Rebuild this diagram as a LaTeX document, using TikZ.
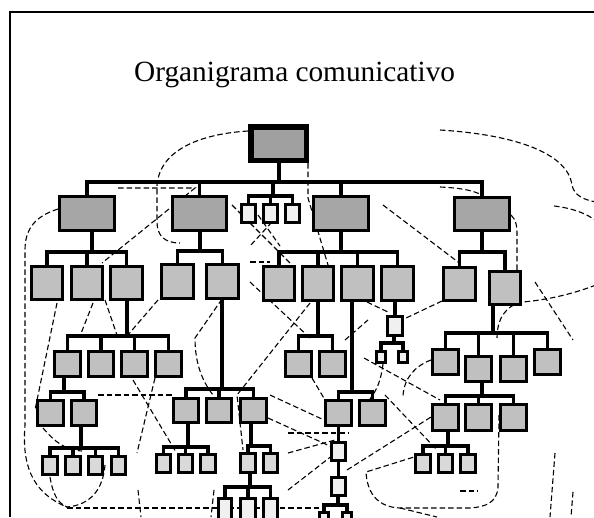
\documentclass[tikz,border=0pt]{standalone}
\usepackage{fontspec}
\setmainfont{Liberation Serif}
\definecolor{lvT}{RGB}{160,160,160}
\definecolor{lvA}{RGB}{166,166,166}
\definecolor{lvB}{RGB}{192,192,192}
\definecolor{lvC}{RGB}{217,217,217}
\definecolor{lvD}{RGB}{240,240,240}
\newcommand\bx[6]{\node[#1, minimum width={#4-#2-3.3}, minimum height={#5-#3-3.3}] (#6) at ({(#2+#4)/2},{(#3+#5)/2}) {};}
\newcommand\stemto[3]{\draw[tree] (#1.south -| #2,0) -- (#2,#3);}
\newcommand\kid[3]{\draw[tree] (#1,#2) -| (#3.north);}
\begin{document}
\begin{tikzpicture}[x=1pt,y=-1pt,
  box/.style={draw=black, line width=3.3pt, rectangle, inner sep=0pt, outer sep=0pt},
  lone/.style={box, fill=lvA},
  ltwo/.style={box, fill=lvB},
  lthree/.style={box, fill=lvC},
  lfour/.style={box, fill=lvD},
  tree/.style={line width=3.2pt, line cap=rect, line join=miter},
  comm/.style={line width=1.1pt, dash pattern=on 5.5pt off 3pt},
  frame/.style={line width=2.2pt}]
\useasboundingbox (0,0) rectangle (594,517);
\fill[white] (0,0) rectangle (594,517);
% frame and title
\draw[frame] (10,517) -- (10,12) -- (594,12);
\node[font=\fontsize{29.3pt}{35pt}\selectfont, anchor=base west, inner sep=0pt] (title) at (134,81) {Organigrama comunicativo};
% communication lines (dashed)
\draw[comm] (248,131) .. controls (200,134) and (160,150) .. (157,185) -- (157,222) .. controls (157,236) and (165,243) .. (180,243);
\draw[comm] (118,188) -- (195,188) -- (102,263);
\draw[comm] (58,209) .. controls (36,216) and (25,228) .. (25,250) -- (25,425) .. controls (22,462) and (30,492) .. (67,507);
\draw[comm] (308,163) -- (308,198) -- (328,265);
\draw[comm] (440,130) .. controls (520,135) and (568,155) .. (572,185) .. controls (574,196) and (585,200) .. (596,202);
\draw[comm] (440,187) .. controls (460,188) and (472,190) .. (482,195);
\draw[comm] (554,206) .. controls (572,208) and (588,214) .. (596,221);
\draw[comm] (511,215) .. controls (516,220) and (517,225) .. (517,235) -- (517,270);
\draw[comm] (383,205) -- (458,262);
\draw[comm] (535,282) -- (573,340);
\draw[comm] (596,285) .. controls (570,295) and (545,300) .. (523,302) .. controls (505,305) and (497,320) .. (497,338);
\draw[comm] (442,301) -- (404,319);
\draw[comm] (367,302) -- (390,313);
\draw[comm] (250,282) -- (310,338);
\draw[comm] (250,262) -- (270,262);
\draw[comm] (222,299) -- (195,338) .. controls (195,365) and (203,382) .. (213,395);
\draw[comm] (158,300) -- (127,336);
\draw[comm] (93,303) -- (80,336);
\draw[comm] (105,300) -- (118,338);
\draw[comm] (57,303) -- (35,410);
\draw[comm] (67,508) -- (323,508);
\draw[comm] (105,465) .. controls (103,490) and (90,505) .. (67,507);
\draw[comm] (50,477) .. controls (53,495) and (58,503) .. (67,507);
\draw[comm] (43,428) .. controls (55,442) and (65,450) .. (82,451);
\draw[comm] (98,395) -- (172,395);
\draw[comm] (133,380) -- (176,452);
\draw[comm] (155,378) -- (137,453);
\draw[comm] (138,490) -- (141,517);
\draw[comm] (310,303) -- (237,395) -- (243,450);
\draw[comm] (214,490) -- (211,517);
\draw[comm] (270,395) -- (324,420);
\draw[comm] (268,418) -- (332,447);
\draw[comm] (288,433) -- (348,433);
\draw[comm] (288,453) -- (335,440);
\draw[comm] (288,490) -- (333,455);
\draw[comm] (347,470) -- (431,417);
\draw[comm] (385,395) -- (437,450);
\draw[comm] (364,358) -- (440,400);
\draw[comm] (383,364) .. controls (381,380) and (377,390) .. (370,399);
\draw[comm] (431,360) .. controls (415,366) and (404,378) .. (403,396);
\draw[comm] (499,415) -- (498,487) .. controls (497,503) and (485,507) .. (470,508) -- (400,508) .. controls (375,507) and (367,490) .. (366,472) -- (414,457);
\draw[comm] (460,491) -- (478,491);
\draw[comm] (555,453) -- (550,517);
\draw[comm] (573,492) -- (571,517);
\draw[comm] (400,508) -- (437,517);
\draw[comm] (345,340) -- (368,320);
\draw[comm] (312,378) -- (325,400);
\draw[comm] (232,205) -- (290,263);
\draw[comm] (258,215) -- (280,246);
\draw[comm] (272,222) -- (250,246);
% boxes
\node[box, fill=lvT, line width=5.5pt, minimum width=55.5, minimum height=33.5] (T) at (278.5,143.5) {};
\bx{lone}{58}{195}{116}{232}{A}
\bx{lone}{171}{195}{228}{232}{B}
\bx{lone}{312}{195}{370}{232}{C}
\bx{lone}{453}{196}{511}{232}{D}
\bx{lfour}{240}{203}{257}{224}{K1}
\bx{lfour}{262}{203}{279}{224}{K2}
\bx{lfour}{284}{203}{301}{224}{K3}
\bx{ltwo}{30}{265}{64}{301}{A1}
\bx{ltwo}{70}{265}{104}{301}{A2}
\bx{ltwo}{109}{265}{144}{301}{A3}
\bx{ltwo}{160}{263}{195}{300}{B1}
\bx{ltwo}{205}{263}{240}{300}{B2}
\bx{ltwo}{262}{265}{296}{302}{C1}
\bx{ltwo}{301}{265}{335}{302}{C2}
\bx{ltwo}{340}{265}{375}{302}{C3}
\bx{ltwo}{380}{265}{415}{302}{C4}
\bx{ltwo}{442}{266}{477}{302}{D1}
\bx{ltwo}{488}{270}{522}{306}{D2}
\bx{ltwo}{53}{350}{82}{378}{A31}
\bx{ltwo}{87}{350}{115}{378}{A32}
\bx{ltwo}{120}{350}{149}{378}{A33}
\bx{ltwo}{154}{350}{183}{378}{A34}
\bx{ltwo}{36}{399}{65}{427}{E1}
\bx{ltwo}{70}{399}{98}{427}{E2}
\bx{lthree}{41}{455}{59}{476}{F1}
\bx{lthree}{64}{455}{82}{476}{F2}
\bx{lthree}{87}{455}{104}{476}{F3}
\bx{lthree}{110}{455}{127}{476}{F4}
\bx{ltwo}{172}{397}{200}{424}{G1}
\bx{ltwo}{205}{397}{233}{424}{G2}
\bx{ltwo}{239}{397}{268}{424}{G3}
\bx{lthree}{155}{453}{172}{474}{H1}
\bx{lthree}{177}{453}{194}{474}{H2}
\bx{lthree}{199}{453}{217}{474}{H3}
\bx{lthree}{239}{452}{257}{474}{I1}
\bx{lthree}{262}{452}{279}{474}{I2}
\bx{lfour}{217}{497}{233}{522}{J1}
\bx{lfour}{239}{497}{257}{522}{J2}
\bx{lfour}{262}{497}{279}{522}{J3}
\bx{ltwo}{284}{350}{313}{378}{M1}
\bx{ltwo}{318}{350}{347}{378}{M2}
\bx{ltwo}{324}{399}{353}{427}{N1}
\bx{ltwo}{358}{399}{387}{427}{N2}
\bx{lfour}{330}{441}{347}{462}{P1}
\bx{lfour}{330}{476}{347}{497}{P2}
\bx{lfour}{318}{511}{330}{526}{Q1}
\bx{lfour}{341}{511}{353}{526}{Q2}
\bx{lfour}{386}{315}{404}{337}{R}
\bx{lfour}{375}{350}{387}{364}{S1}
\bx{lfour}{397}{350}{409}{364}{S2}
\bx{ltwo}{431}{348}{460}{376}{U1}
\bx{ltwo}{464}{355}{493}{383}{U2}
\bx{ltwo}{499}{355}{528}{383}{U3}
\bx{ltwo}{533}{348}{562}{376}{U4}
\bx{ltwo}{431}{403}{460}{432}{V1}
\bx{ltwo}{464}{403}{493}{432}{V2}
\bx{ltwo}{499}{403}{528}{432}{V3}
\bx{lthree}{414}{453}{432}{474}{W1}
\bx{lthree}{437}{453}{454}{474}{W2}
\bx{lthree}{459}{453}{477}{474}{W3}
% tree connectors
\stemto{T}{279}{182}
\foreach \k in {A,B,C,D} {\kid{279}{182}{\k}}
\coordinate (cl) at (273,196);
\draw[tree] (279,182) -| (cl);
\foreach \k in {K1,K2,K3} {\kid{273}{196}{\k}}
\stemto{A}{92}{252}
\foreach \k in {A1,A2,A3} {\kid{92}{252}{\k}}
\stemto{B}{200}{251}
\foreach \k in {B1,B2} {\kid{200}{251}{\k}}
\stemto{C}{341}{252}
\foreach \k in {C1,C2,C3,C4} {\kid{341}{252}{\k}}
\stemto{D}{482}{252}
\foreach \k in {D1,D2} {\kid{482}{252}{\k}}
\stemto{A3}{127}{336}
\foreach \k in {A31,A32,A33,A34} {\kid{127}{336}{\k}}
\stemto{A31}{64}{392}
\foreach \k in {E1,E2} {\kid{64}{392}{\k}}
\stemto{E2}{81}{448}
\foreach \k in {F1,F2,F3,F4} {\kid{81}{448}{\k}}
\stemto{B2}{222}{389}
\foreach \k in {G1,G2,G3} {\kid{222}{389}{\k}}
\stemto{G1}{188}{447}
\foreach \k in {H1,H2,H3} {\kid{188}{447}{\k}}
\stemto{G3}{251}{446}
\foreach \k in {I1,I2} {\kid{251}{446}{\k}}
\stemto{I1}{250}{487}
\foreach \k in {J1,J2,J3} {\kid{250}{487}{\k}}
\stemto{C2}{318}{336}
\foreach \k in {M1,M2} {\kid{318}{336}{\k}}
\stemto{C3}{352}{392}
\foreach \k in {N1,N2} {\kid{352}{392}{\k}}
\draw[tree] (N1.south -| P1.north) -- (P1.north);
\draw[tree] (P1.south) -- (P2.north);
\stemto{P2}{338}{505}
\foreach \k in {Q1,Q2} {\kid{338}{505}{\k}}
\draw[tree] (C4.south -| R.north) -- (R.north);
\stemto{R}{394}{343}
\foreach \k in {S1,S2} {\kid{394}{343}{\k}}
\stemto{D2}{493}{333}
\foreach \k in {U1,U2,U3,U4} {\kid{493}{333}{\k}}
\stemto{U2}{482}{396}
\foreach \k in {V1,V2,V3} {\kid{482}{396}{\k}}
\stemto{V1}{448}{446}
\foreach \k in {W1,W2,W3} {\kid{448}{446}{\k}}
\end{tikzpicture}
\end{document}
